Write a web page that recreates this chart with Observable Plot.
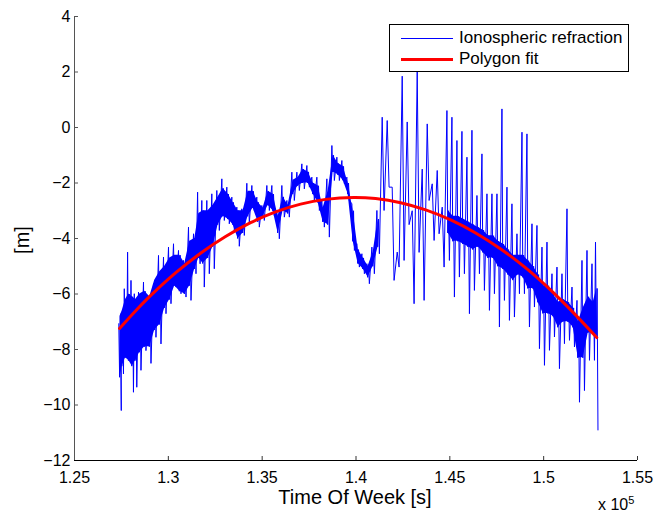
<!DOCTYPE html>
<html><head><meta charset="utf-8">
<script src="https://cdn.jsdelivr.net/npm/d3@7"></script>
<script src="https://cdn.jsdelivr.net/npm/@observablehq/plot@0.6"></script>
<style>
body{margin:0;background:#fff;font-family:"Liberation Sans",Arial,sans-serif;}
#wrap{position:relative;width:655px;height:513px;}
.lbl{position:absolute;color:#000;white-space:nowrap;line-height:1;}
#legend{position:absolute;left:389px;top:24px;width:240px;height:48px;box-sizing:border-box;border:1px solid #000;background:#fff;}
.sw{position:absolute;left:11px;width:52px;}
.lt{position:absolute;left:69px;font-size:17px;line-height:20px;color:#000;white-space:nowrap;}
</style></head><body><div id="wrap"></div>
<script>
// Time of week (s): bin centres of the noisy ionospheric series
const binT = [127426,127543,127719,127895,128076,128252,128476,128742,129009,129275,
  129542,129809,130075,130342,130608,130875,131141,131408,131626,131850,
  132117,132383,132650,132917,133183,133450,133716,133983,134249,134516,
  134782,135049,135316,135582,135849,136115,136382,136648,136915,137181,
  137448,137714,137981,138248,138514,138781,139047,139314,139580,139847,
  140113,140380,140646,140913,141180,141446,141713,141979,142246,142512,
  142779,143045,143312,143579,143845,144112,144378,144645,144911,145178,
  145444,145711,145978,146244,146511,146777,147044,147310,147577,147843,
  148110,148376,148643,148910,149176,149443,149709,149976,150242,150509,
  150775,151042,151309,151575,151842,152108,152375,152641,152828];
// extreme upper / lower excursion in each bin (m)
const binHi = [-7.07,-6.71,-5.81,-4.49,-5.51,-5.99,-5.93,-5.57,-6.11,-5.63,
  -4.61,-4.67,-4.31,-4.19,-4.43,-4.79,-3.59,-3.83,-2.33,-2.63,
  -2.63,-2.39,-2.27,-1.85,-2.15,-2.51,-2.87,-2.93,-2.01,-2.09,
  -2.51,-2.81,-2.09,-2.09,-3.00,-2.09,-2.63,-1.61,-1.61,-1.31,
  -1.37,-1.79,-1.79,-2.63,-1.85,-0.65,-1.07,-1.19,-1.79,-2.75,
  -4.19,-4.55,-4.91,-4.31,-2.99,0.37,0.25,-2.15,-4.49,1.85,
  0.20,-3.00,2.00,-1.50,0.13,-2.03,-1.55,-2.87,0.61,0.37,
  -0.47,-0.14,-1.07,-0.10,-2.45,-0.95,-2.39,-2.39,-2.39,0.67,
  -2.15,-2.75,-3.83,-0.17,-0.23,-3.47,-3.53,-4.31,-4.13,-5.27,
  -5.03,-5.27,-2.93,-5.75,-6.23,-4.79,-4.43,-4.91,-4.13];
const binLo = [-10.2,-8.88,-8.16,-8.40,-9.54,-9.36,-8.75,-8.04,-8.50,-7.56,
  -7.80,-6.71,-6.35,-5.75,-5.99,-6.11,-6.23,-5.27,-4.91,-5.75,
  -5.27,-5.09,-3.71,-3.35,-3.47,-3.71,-4.28,-3.89,-3.47,-2.99,
  -3.59,-3.35,-2.99,-3.17,-4.01,-3.23,-3.23,-2.63,-2.27,-2.21,
  -2.15,-2.63,-2.99,-3.59,-3.95,-1.91,-1.91,-2.03,-2.63,-4.43,
  -5.03,-5.27,-5.63,-5.27,-4.55,-2.99,-2.15,-5.51,-5.03,-4.79,
  -3.50,-6.35,-4.50,-6.23,-2.63,-4.07,-3.83,-5.03,-4.79,-6.11,
  -5.39,-5.27,-6.71,-5.87,-5.27,-5.87,-6.59,-5.99,-7.19,-6.23,
  -6.95,-6.83,-5.99,-5.99,-7.19,-6.47,-7.97,-8.57,-8.03,-7.55,
  -8.69,-7.79,-7.67,-7.91,-9.90,-9.48,-8.39,-8.39,-10.9];
// dense core of each bin (NaN where the signal is a single swinging trace)
const coreHi = [-6.8,-6.6,-6.2,-6.0,-6.1,-6.2,-6.0,-5.9,-6.1,-5.5,
  -5.2,-5.0,-4.7,-4.6,-4.6,-4.9,-4.1,-4.0,-3.1,-3.0,
  -3.0,-2.8,-2.5,-2.2,-2.4,-2.7,-3.0,-3.0,-2.3,-2.3,
  -2.7,-2.9,-2.3,-2.4,-3.2,-2.5,-2.8,-1.9,-1.8,-1.5,
  -1.6,-2.0,-2.1,-2.9,-2.3,-1.0,-1.3,-1.4,-2.0,-3.0,
  -4.4,-4.7,-5.0,-4.5,-3.3,NaN,NaN,NaN,NaN,NaN,
  NaN,NaN,NaN,NaN,NaN,NaN,NaN,NaN,-3.0,-3.2,
  -3.2,-3.3,-3.4,-3.5,-3.6,-3.7,-3.9,-3.9,-4.1,-4.2,
  -4.4,-4.6,-4.6,-4.6,-4.8,-5.0,-5.3,-5.7,-5.7,-6.0,
  -6.3,-6.2,-6.3,-6.5,-7.0,-6.5,-6.1,-6.3,-5.8];
const coreLo = [-9.0,-8.6,-8.3,-8.4,-8.6,-8.4,-8.1,-7.9,-7.9,-7.3,
  -7.1,-6.5,-6.2,-5.7,-5.9,-6.0,-5.7,-5.1,-4.7,-4.9,
  -4.7,-4.3,-3.5,-3.2,-3.3,-3.5,-4.0,-3.8,-3.2,-2.9,
  -3.4,-3.2,-2.8,-3.0,-3.8,-3.0,-3.1,-2.4,-2.1,-2.0,
  -2.0,-2.4,-2.7,-3.4,-3.5,-1.6,-1.7,-1.9,-2.4,-4.1,
  -4.9,-5.1,-5.4,-5.0,-4.3,NaN,NaN,NaN,NaN,NaN,
  NaN,NaN,NaN,NaN,NaN,NaN,NaN,NaN,-3.8,-4.1,
  -4.1,-4.2,-4.3,-4.4,-4.3,-4.5,-4.7,-4.7,-5.0,-5.1,
  -5.3,-5.5,-5.3,-5.4,-5.8,-5.8,-6.3,-6.7,-6.7,-6.8,
  -7.2,-7.0,-7.0,-7.2,-8.3,-8.3,-7.4,-7.4,-7.5];
// Polygon fit
const fitT = [127399,128252,129052,130384,131717,133050,134383,135715,137048,138381,139873,
  141046,142379,143712,145045,146377,147710,149043,150376,151708,152828];
const fitV = [-7.24,-6.61,-6.06,-5.24,-4.53,-3.93,-3.43,-3.04,-2.76,-2.59,-2.52,
  -2.56,-2.71,-2.97,-3.33,-3.80,-4.38,-5.06,-5.86,-6.76,-7.57];
const xTicks = [125000,130000,135000,140000,145000,150000,155000];
const xTickLabels = ["1.25","1.3","1.35","1.4","1.45","1.5","1.55"];
const yTicks = [-12,-10,-8,-6,-4,-2,0,2,4];
const seriesNames = ["Ionospheric refraction","Polygon fit"];
const seriesColors = ["#0000ff","#ff0000"];

const raw = [];
binT.forEach((t,i)=>{
  if (isNaN(coreHi[i])) {
    raw.push({t:t-50, v:binHi[i]}); raw.push({t:t+50, v:binLo[i]});
  } else {
    raw.push({t:t-66, v:binHi[i]}); raw.push({t:t-22, v:coreLo[i]});
    raw.push({t:t+22, v:coreHi[i]}); raw.push({t:t+66, v:binLo[i]});
  }
});
const core = binT.map((t,i)=>({t, hi:coreHi[i], lo:coreLo[i]}));
const fit = fitT.map((t,i)=>({t, v:fitV[i]}));

const chart = Plot.plot({
  width:655, height:513, marginLeft:74, marginRight:18, marginTop:16, marginBottom:53,
  style:{fontFamily:"'Liberation Sans', Arial, sans-serif", fontSize:"16px", color:"#000", background:"#fff", overflow:"visible"},
  x:{domain:[125000,155000]},
  y:{domain:[-12,4]},
  marks:[
    Plot.areaY(core,{x:"t", y1:"lo", y2:"hi", fill:seriesColors[0]}),
    Plot.line(raw,{x:"t", y:"v", stroke:seriesColors[0], strokeWidth:1}),
    Plot.line(fit,{x:"t", y:"v", stroke:seriesColors[1], strokeWidth:3, curve:"catmull-rom"}),
    Plot.axisX({ticks:xTicks, tickFormat:d=>xTickLabels[xTicks.indexOf(d)], tickSize:-4, tickPadding:15, stroke:"#333", label:null}),
    Plot.axisY({ticks:yTicks, tickFormat:d=>d<0?"\u2212"+Math.abs(d):String(d), tickSize:-4, tickPadding:8, stroke:"#555", label:null}),
    Plot.ruleX([125000],{stroke:"#555"}),
    Plot.ruleY([-12],{stroke:"#000"})
  ]
});
const wrap = document.getElementById("wrap");
wrap.appendChild(chart);

function addLabel(text, css){ const d=document.createElement("div"); d.className="lbl"; d.textContent=text; Object.assign(d.style, css); wrap.appendChild(d); return d; }
addLabel("Time Of Week [s]", {left:"355px", top:"487px", fontSize:"20px", transform:"translateX(-50%)"});
addLabel("[m]", {left:"22px", top:"240px", fontSize:"20px", transform:"translate(-50%,-50%) rotate(-90deg)"});
const ex = addLabel("x 10", {left:"598px", top:"495px", fontSize:"16px"});
const sup = document.createElement("sup"); sup.textContent="5"; sup.style.fontSize="11px"; sup.style.verticalAlign="6px"; ex.appendChild(sup);

const leg = document.createElement("div"); leg.id="legend"; wrap.appendChild(leg);
seriesNames.forEach((name,i)=>{
  const cy = i===0 ? 13 : 34;
  const sw = document.createElement("div"); sw.className="sw";
  sw.style.top = (cy - (i===0?0.5:1.5))+"px"; sw.style.height = (i===0?1:3)+"px"; sw.style.background = seriesColors[i];
  leg.appendChild(sw);
  const t = document.createElement("div"); t.className="lt"; t.textContent=name; t.style.top=(cy-10)+"px";
  leg.appendChild(t);
});
</script></body></html>
